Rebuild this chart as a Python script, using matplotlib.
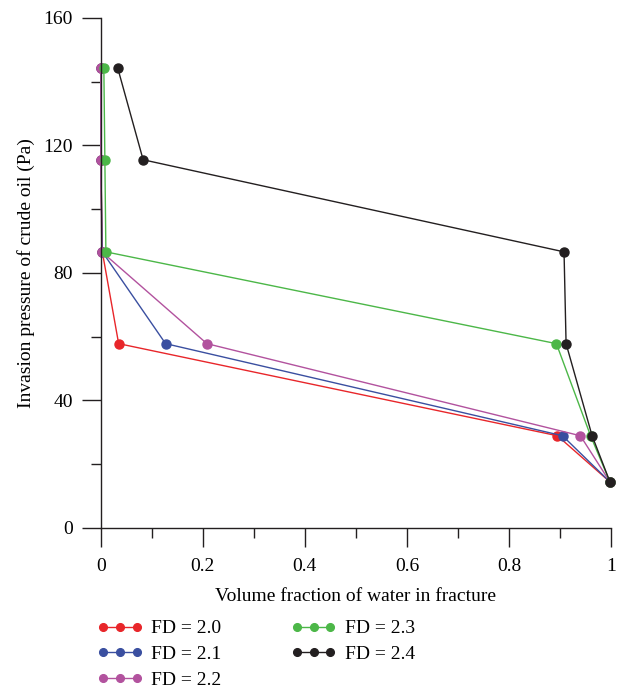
import matplotlib
matplotlib.use("Agg")
from matplotlib import pyplot as plt
from matplotlib.ticker import MultipleLocator
from matplotlib.legend_handler import HandlerLine2D

# pressure levels (Pa)
pressure = [144.4, 115.5, 86.6, 57.8, 28.9, 14.4]

# volume fraction of water per fractal dimension
fd_20 = [0.0, 0.0, 0.003, 0.035, 0.895, 0.998]
fd_21 = [0.0, 0.0, 0.003, 0.127, 0.905, 0.998]
fd_22 = [0.0, 0.0, 0.002, 0.208, 0.940, 0.998]
fd_23 = [0.006, 0.008, 0.010, 0.893, 0.960, 0.998]
fd_24 = [0.033, 0.083, 0.908, 0.912, 0.963, 0.998]

labels = ["FD = 2.0", "FD = 2.1", "FD = 2.2", "FD = 2.3", "FD = 2.4"]
colors = ["#e8262a", "#3a4fa0", "#b2529e", "#4cb748", "#231f20"]

plt.rcParams['font.family'] = ['Liberation Serif', 'DejaVu Serif']

fig = plt.figure(figsize=(6.26, 6.9), dpi=100)
ax = fig.add_axes([0.161, 0.235, 0.815, 0.739])

series = [fd_20, fd_21, fd_22, fd_23, fd_24]
lines = []
for xs, lab, col in zip(series, labels, colors):
    ln, = ax.plot(xs, pressure, color=col, lw=1.0, marker='o', ms=6.5,
                  label=lab, clip_on=False)
    lines.append(ln)

ax.set_xlim(0, 1)
ax.set_ylim(0, 160)
ax.xaxis.set_major_locator(MultipleLocator(0.2))
ax.xaxis.set_minor_locator(MultipleLocator(0.1))
ax.yaxis.set_major_locator(MultipleLocator(40))
ax.yaxis.set_minor_locator(MultipleLocator(20))
ax.xaxis.set_major_formatter(plt.FuncFormatter(lambda v, p: "{:g}".format(round(v, 1))))

for s in ['top', 'right']:
    ax.spines[s].set_visible(False)
for s in ['left', 'bottom']:
    ax.spines[s].set_linewidth(1.0)
    ax.spines[s].set_color('#231f20')

ax.tick_params(which='major', length=14, width=1.0, labelsize=14, color='#231f20')
ax.tick_params(axis='x', which='major', pad=8)
ax.tick_params(axis='y', which='major', pad=6)
ax.tick_params(which='minor', length=7, width=1.0, color='#231f20')

ax.set_xlabel("Volume fraction of water in fracture", fontsize=14, labelpad=9)
ax.set_ylabel("Invasion pressure of crude oil (Pa)", fontsize=14, labelpad=6)

# legend with three markers per handle (column-wise fill)
fig.legend(lines, labels, ncol=2, loc='upper left',
           bbox_to_anchor=(0.128, 0.127), frameon=False, fontsize=14,
           numpoints=3, handlelength=2.3, handletextpad=0.45,
           columnspacing=3.6, labelspacing=0.42, markerscale=0.85,
           handler_map={ln: HandlerLine2D(numpoints=3) for ln in lines})

fig.savefig("out.png", dpi=100)
